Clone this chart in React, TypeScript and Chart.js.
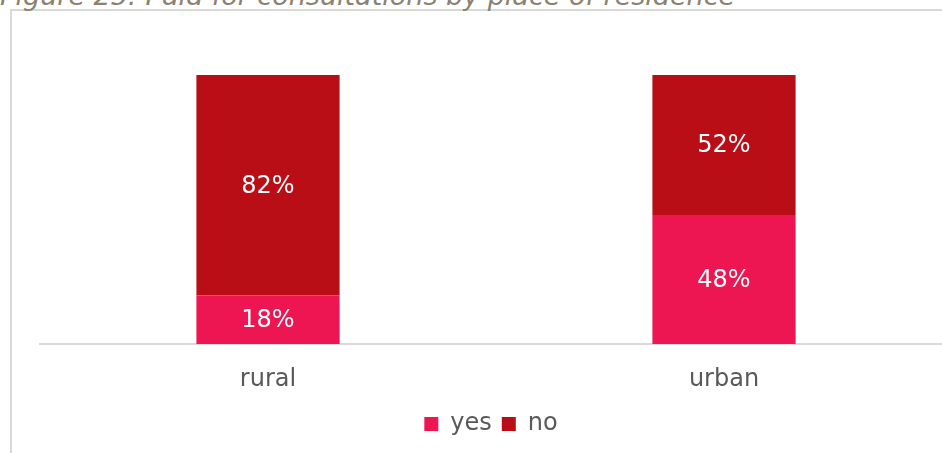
import React, { useEffect, useRef } from "react";
import { Chart, registerables } from "chart.js";

Chart.register(...registerables);

const categories = ["rural", "urban"];
const yesValues = [18, 48];
const noValues = [82, 52];
const seriesNames = ["yes", "no"];
const titleText = "Figure 25: Paid for consultations by place of residence";

const YES_COLOR = "#ED1652";
const NO_COLOR = "#BA0E17";
const FONT = "'DejaVu Sans', Verdana, sans-serif";

const valueLabels = {
  id: "valueLabels",
  afterDatasetsDraw(chart: any) {
    const ctx = chart.ctx;
    ctx.save();
    ctx.fillStyle = "#ffffff";
    ctx.font = `24px ${FONT}`;
    ctx.textAlign = "center";
    ctx.textBaseline = "middle";
    chart.data.datasets.forEach((ds: any, di: number) => {
      const meta = chart.getDatasetMeta(di);
      meta.data.forEach((bar: any, i: number) => {
        const v = ds.data[i];
        const { x, y, base } = bar.getProps(["x", "y", "base"], true);
        ctx.fillText(`${v}%`, x, (y + base) / 2 + 1);
      });
    });
    ctx.restore();
  },
};

const legendShift = {
  id: "legendShift",
  afterLayout(chart: any) {
    if (chart.legend) {
      chart.legend.left -= 5;
      chart.legend.right -= 5;
    }
  },
};

export default function App() {
  const ref = useRef<HTMLCanvasElement>(null);
  useEffect(() => {
    if (!ref.current) return;
    const chart = new Chart(ref.current, {
      type: "bar",
      data: {
        labels: categories,
        datasets: [
          { label: seriesNames[0], data: yesValues, backgroundColor: YES_COLOR },
          { label: seriesNames[1], data: noValues, backgroundColor: NO_COLOR },
        ],
      },
      options: {
        responsive: false,
        animation: false,
        events: [],
        layout: { padding: { top: 75, left: 40, right: 8, bottom: 7 } },
        datasets: { bar: { categoryPercentage: 1, barPercentage: 0.314 } },
        scales: {
          x: {
            stacked: true,
            grid: { display: false, drawTicks: false },
            border: { display: true, color: "#d9d9d9", width: 2 },
            ticks: { color: "#595959", font: { family: FONT, size: 24 }, padding: 21 },
            afterFit: (scale: any) => {
              scale.height = 58;
            },
          },
          y: { stacked: true, display: false, min: 0, max: 100 },
        },
        plugins: {
          legend: {
            position: "bottom",
            labels: {
              color: "#595959",
              font: { family: FONT, size: 24 },
              boxWidth: 14,
              boxHeight: 14,
              padding: 10,
            },
          },
          tooltip: { enabled: false },
        },
      },
      plugins: [valueLabels, legendShift],
    });
    return () => chart.destroy();
  }, []);
  return (
    <div
      style={{
        position: "fixed",
        left: 0,
        top: 0,
        width: 942,
        height: 453,
        overflow: "hidden",
        background: "#fff",
      }}
    >
      <div
        style={{
          position: "absolute",
          left: 10,
          top: 9,
          width: 1000,
          height: 1000,
          borderLeft: "2px solid #d9d9d9",
          borderTop: "2px solid #d9d9d9",
        }}
      />
      <div
        style={{
          position: "absolute",
          left: 0,
          top: -20,
          whiteSpace: "nowrap",
          fontFamily: "'DejaVu Sans', Verdana, sans-serif",
          fontStyle: "italic",
          fontSize: 27,
          lineHeight: "32px",
          color: "#8c8170",
        }}
      >
        {titleText}
      </div>
      <canvas
        ref={ref}
        width={960}
        height={453}
        style={{ position: "absolute", left: 0, top: 0, width: 960, height: 453 }}
      />
    </div>
  );
}
